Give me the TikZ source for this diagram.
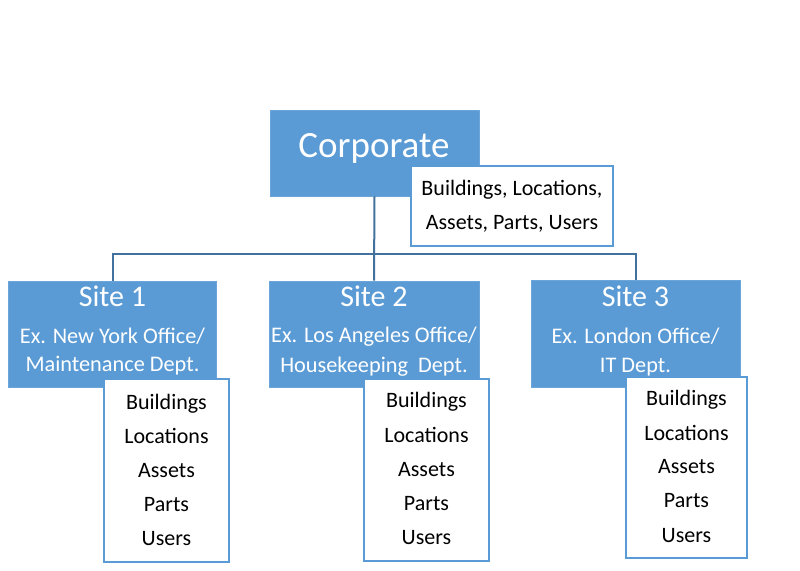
\documentclass[tikz,border=0pt]{standalone}
\usepackage{fontspec}
\setmainfont{Carlito}
\definecolor{boxblue}{HTML}{5B9BD5}
\definecolor{linkblue}{HTML}{41719C}
\definecolor{edgeblue}{HTML}{5B9BD5}
\begin{document}
\begin{tikzpicture}[x=1pt,y=-1pt,
  bluebox/.style={fill=boxblue,draw=boxblue!90!white,line width=0.6pt,inner sep=0pt},
  listbox/.style={fill=white,draw=edgeblue,line width=1.3pt,inner sep=0pt},
  conn/.style={draw=linkblue,line width=2pt},
  wtext/.style={anchor=base,text=white,inner sep=0pt},
  subtext/.style={wtext,font=\fontsize{22.3}{27}\selectfont},
  btext/.style={anchor=base,text=black,inner sep=0pt,font=\fontsize{22}{26}\selectfont},
]
\useasboundingbox (0,0) rectangle (800,570);
% boxes
\node[bluebox,minimum width=209pt,minimum height=86pt] (corp) at (374.5,153) {};
\node[bluebox,minimum width=208pt,minimum height=106pt] (s1) at (112.5,334) {};
\node[bluebox,minimum width=210pt,minimum height=106pt] (s2) at (374,334) {};
\node[bluebox,minimum width=209pt,minimum height=107pt] (s3) at (635.5,333.5) {};
% connectors
\coordinate (j) at (374.5,253.5);
\draw[conn] (corp.south) -- (s2.north);
\draw[conn] (s1.north) |- (s3.north |- j) -- (s3.north);
% corporate texts
\node[wtext,font=\fontsize{37}{44}\selectfont] (corpt) at (374,157) {Corporate};
\node[listbox,minimum width=202pt,minimum height=80pt] (corpl) at (512,206) {};
\node[btext] (cl1) at (512,195) {Buildings, Locations,};
\node[btext] (cl2) at (512,229) {Assets, Parts, Users};
% site texts
\node[wtext,font=\fontsize{30}{36}\selectfont] (s1a) at (112.5,306.5) {Site 1};
\node[subtext] (s1b) at (112.5,343) {Ex. New York Office/};
\node[subtext] (s1c) at (112.5,371.5) {Maintenance\ Dept.};
\node[wtext,font=\fontsize{30}{36}\selectfont] (s2a) at (374,306.5) {Site 2};
\node[subtext] (s2b) at (374,342.5) {Ex. Los Angeles Office/};
\node[subtext] (s2c) at (374,372) {Housekeeping\ \ Dept.};
\node[wtext,font=\fontsize{30}{36}\selectfont] (s3a) at (635.5,306) {Site 3};
\node[subtext] (s3b) at (635.5,343) {Ex. London Office/};
\node[subtext] (s3c) at (635.5,372) {IT Dept.};
% list boxes
\node[listbox,minimum width=125pt,minimum height=183pt] (l1) at (166.5,470.5) {};
\node[listbox,minimum width=125pt,minimum height=182pt] (l2) at (426.5,470) {};
\node[listbox,minimum width=121pt,minimum height=181pt] (l3) at (686.5,467.5) {};
\foreach \t/\y [count=\i] in {Buildings/409,Locations/443.5,Assets/477,Parts/511.5,Users/545}
  \node[btext] (l1i\i) at (166.5,\y) {\t};
\foreach \t/\y [count=\i] in {Buildings/407,Locations/442,Assets/476,Parts/510,Users/544}
  \node[btext] (l2i\i) at (426.5,\y) {\t};
\foreach \t/\y [count=\i] in {Buildings/405,Locations/440,Assets/473.5,Parts/507.5,Users/542}
  \node[btext] (l3i\i) at (686.5,\y) {\t};
\end{tikzpicture}
\end{document}
